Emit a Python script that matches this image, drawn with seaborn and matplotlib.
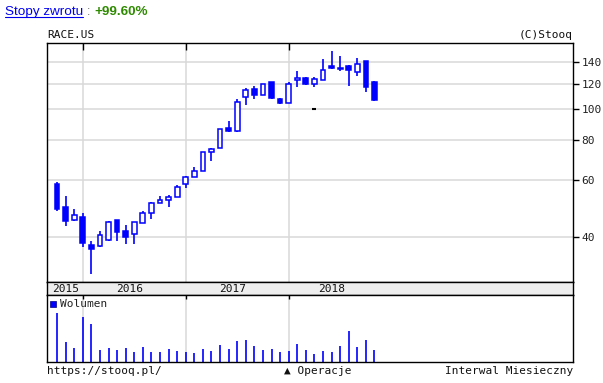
import numpy as np
import pandas as pd
import seaborn as sns
import matplotlib.pyplot as plt
from matplotlib.ticker import FixedLocator, NullLocator, FixedFormatter
from matplotlib.lines import Line2D

months = pd.period_range("2015-10", "2018-11", freq="M")

open_ = [58.5, 49.6, 45.1, 46.1, 37.7, 37.6, 39.2, 45.1, 41.8, 40.8,
         44.1, 47.4, 50.9, 52.0, 53.1, 58.3, 61.3, 64.3, 73.4, 75.5,
         87.3, 85.4, 108.7, 115.1, 110.3, 121.3, 107.6, 104.1, 123.3, 124.6,
         119.3, 123.3, 135.7, 134.1, 136.1, 130.6, 141.0, 121.3]
high = [59.2, 53.8, 48.9, 47.5, 38.9, 41.8, 44.8, 45.1, 43.6, 44.4,
        48.2, 51.5, 53.6, 54.1, 58.0, 62.0, 66.0, 73.6, 75.5, 86.4,
        91.8, 107.4, 116.2, 117.9, 120.0, 121.3, 108.4, 121.1, 131.2, 125.7,
        125.7, 143.0, 151.5, 146.2, 137.0, 144.4, 141.0, 122.2]
low = [48.3, 43.4, 44.9, 37.3, 30.7, 37.3, 38.9, 38.9, 38.1, 38.1,
       44.1, 45.6, 50.9, 49.7, 53.1, 56.9, 61.3, 64.3, 69.1, 75.5,
       85.0, 85.0, 103.1, 107.6, 110.3, 107.6, 103.9, 104.1, 117.3, 119.0,
       117.3, 123.0, 133.4, 131.5, 118.2, 126.9, 112.9, 105.8]
close = [48.9, 44.9, 46.8, 38.4, 36.8, 40.5, 44.4, 41.5, 40.1, 44.4,
         47.4, 50.9, 52.1, 53.1, 57.1, 61.3, 64.2, 73.4, 75.0, 86.4,
         85.4, 104.9, 114.3, 110.3, 119.3, 108.4, 104.6, 119.3, 124.6, 119.6,
         123.7, 131.9, 134.1, 132.8, 131.9, 137.7, 117.3, 106.7]
volume = [49, 20, 14.3, 45, 38, 12, 14.3, 12.3, 14.3, 10.3,
          15, 10.3, 10.3, 13.3, 11.3, 10.3, 9, 13.3, 11.3, 17.3,
          13.3, 21.3, 22.3, 16.3, 12.3, 13.3, 10.3, 11.3, 18.3, 12.3,
          8.3, 11.3, 10.3, 16.3, 31.3, 15.3, 22.3, 12.3]

op_month = "2018-04"
op_level = 100

price_ticks = [40, 60, 80, 100, 120, 140]
ticker = "RACE.US"
return_text = "+99.60%"

df = pd.DataFrame({"month": months.astype(str), "open": open_, "high": high,
                   "low": low, "close": close, "volume": volume})
df["i"] = np.arange(len(df))
df["year"] = months.year
df["up"] = df["close"] >= df["open"]

sns.set_theme(style="white")
plt.rcParams["font.family"] = ["DejaVu Sans Mono", "DejaVu Sans"]

W, H = 603, 383
fig = plt.figure(figsize=(W / 100, H / 100), dpi=100)
fig.patch.set_facecolor("white")


def box(l, t, r, b):
    return [l / W, 1 - b / H, (r - l) / W, (b - t) / H]


ax = fig.add_axes(box(47, 43, 573, 282))
axd = fig.add_axes(box(47, 282, 573, 295))
axv = fig.add_axes(box(47, 295, 573, 362))

blue = "#0000ff"
grid = "#d8d8d8"
xlim = (-1.17, 60.14)
year_starts = df.loc[(months.month == 1), "i"].tolist()

# price panel
ax.set_yscale("log")
ax.set_ylim(29.0, 160.4)
ax.set_xlim(*xlim)
for v in price_ticks:
    ax.axhline(v, color=grid, lw=1.1, zorder=0)
for x in year_starts:
    ax.axvline(x, color=grid, lw=1.1, zorder=0)

ax.vlines(df["i"], df["low"], df["high"], color=blue, lw=1.2, zorder=2)
up = df[df["up"]]
dn = df[~df["up"]]
ax.bar(up["i"], up["close"] - up["open"], bottom=up["open"], width=0.55,
       facecolor="white", edgecolor=blue, lw=1.1, zorder=3)
ax.bar(dn["i"], dn["open"] - dn["close"], bottom=dn["close"], width=0.55,
       facecolor=blue, edgecolor=blue, lw=1.1, zorder=3)
op_i = df.loc[df["month"] == op_month, "i"].iloc[0]
sns.scatterplot(x=[op_i], y=[op_level], marker="_", s=6, color="black",
                linewidth=1.5, ax=ax, zorder=4, legend=False)

ax.yaxis.tick_right()
ax.yaxis.set_major_locator(FixedLocator(price_ticks))
ax.yaxis.set_major_formatter(FixedFormatter([str(t) for t in price_ticks]))
ax.yaxis.set_minor_locator(NullLocator())
ax.tick_params(axis="y", which="major", right=True, direction="out", length=4,
               width=1, color="black", labelsize=8, pad=2, labelcolor="#222222")
ax.set_xticks(year_starts)
ax.tick_params(axis="x", top=True, bottom=False, labelbottom=False,
               direction="in", length=5, width=1, color="black")
ax.set_xlabel("")
ax.set_ylabel("")
for s in ax.spines.values():
    s.set_color("black")
    s.set_linewidth(1)

# date band
axd.set_facecolor("#eeeeee")
axd.set_xlim(*xlim)
axd.set_ylim(0, 1)
axd.set_xticks([])
axd.set_yticks([])
for s in axd.spines.values():
    s.set_color("black")
    s.set_linewidth(1)
for yr, g in df.groupby("year"):
    mid = (g["i"].min() - 0.5 + g["i"].max() + 0.5) / 2
    axd.text(mid, 0.45, str(yr), ha="center", va="center", fontsize=8,
             color="#111111")

# volume panel
axv.set_xlim(*xlim)
axv.set_ylim(0, 67)
for x in year_starts:
    axv.axvline(x, color=grid, lw=1.1, zorder=0)
axv.vlines(df["i"], 0, df["volume"], color=blue, lw=1.2, zorder=2)
axv.set_xticks(year_starts)
axv.tick_params(axis="x", top=True, bottom=False, labelbottom=False,
                direction="in", length=3, width=1, color="black")
axv.set_yticks([])
for s in axv.spines.values():
    s.set_color("black")
    s.set_linewidth(1)
axv.plot([0.012], [0.87], marker="s", ms=5, color=blue, mec="#000080",
         mew=0.5, transform=axv.transAxes)
axv.text(0.024, 0.87, "Wolumen", transform=axv.transAxes, ha="left",
         va="center", fontsize=8, color="#222222")

# texts
fig.text(47 / W, 1 - 35 / H, ticker, ha="left", va="center", fontsize=8,
         color="#111111")
fig.text(573 / W, 1 - 35 / H, "(C)Stooq", ha="right", va="center",
         fontsize=8, color="#111111")
fig.text(47 / W, 1 - 371 / H, "https://stooq.pl/", ha="left", va="center",
         fontsize=8, color="#111111")
fig.text(318 / W, 1 - 371 / H, "▲ Operacje", ha="center", va="center",
         fontsize=8, color="#111111")
fig.text(573 / W, 1 - 371 / H, "Interwal Miesieczny", ha="right",
         va="center", fontsize=8, color="#111111")

sans = ["Liberation Sans", "DejaVu Sans"]
t1 = fig.text(5 / W, 1 - 12 / H, "Stopy zwrotu", ha="left", va="center",
              fontsize=9.7, color="#0000ee", family=sans)
fig.canvas.draw()
r = fig.canvas.get_renderer()
bb = t1.get_window_extent(r)
fig.add_artist(Line2D([bb.x0 / W, bb.x1 / W], [(bb.y0 + 1.5) / H] * 2,
                      color="#0000ee", lw=0.8))
t2 = fig.text(bb.x1 / W, 1 - 12 / H, " : ", ha="left", va="center",
              fontsize=9.7, color="#777777", family=sans)
bb2 = t2.get_window_extent(r)
fig.text(bb2.x1 / W, 1 - 12 / H, return_text, ha="left", va="center",
         fontsize=9.7, color="#2e8b00", weight="bold", family=sans)

fig.savefig("out.png", dpi=100, facecolor="white")
